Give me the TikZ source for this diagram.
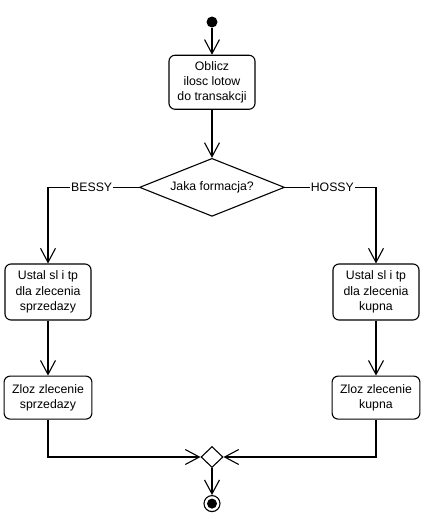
\documentclass[tikz,border=0pt]{standalone}
\usepackage{fontspec}
\setsansfont{Liberation Sans}
\usetikzlibrary{positioning}
\usetikzlibrary{arrows.meta}
\usetikzlibrary{shapes.geometric}
\tikzset{%
	% Specifications for style of nodes:
	base/.style = {draw=black, line width=1.1pt,
		font=\fontsize{12.3pt}{15.2pt}\selectfont\sffamily},
	activity/.style = {base, rectangle, rounded corners=6pt, inner xsep=8pt,
		inner ysep=5pt, minimum width=86pt, align=center},
	decision/.style = {base, diamond, aspect=2.5, inner sep=0pt,
		minimum width=145pt, minimum height=58pt},
	mergeNode/.style = {base, diamond, inner sep=0pt, minimum width=22pt, minimum height=21pt},
	initialState/.style = {circle, fill=black, inner sep=0pt, minimum size=11pt},
	finalState/.style = {base, circle, inner sep=0pt, minimum size=16pt,
		path picture={\fill (path picture bounding box.center) circle (5pt);}},
	flow/.style = {line width=1.1pt, -{Straight Barb[length=14pt, width=15pt]}},
	guard/.style = {fill=white, inner sep=1pt, font=\fontsize{12.3pt}{15.2pt}\selectfont\sffamily}
}

\begin{document}
\begin{tikzpicture}[every node/.style={font=\sffamily}, align=center]
		\useasboundingbox (0,0) rectangle (426pt,-522pt);
		\node (start) [initialState] at (212pt,-22pt) {};
		\node (computeLots) [activity, minimum height=54pt, below=27pt of start] {Oblicz\\ilosc lotow\\do transakcji};
		\node (formationChoice) [decision, below=48pt of computeLots] {Jaka formacja?};
		\node (sellSlTp) [activity, minimum height=56pt] at (48pt,-292pt) {Ustal sl i tp\\dla zlecenia\\sprzedazy};
		\node (buySlTp) [activity, minimum height=56pt] at (376pt,-292pt) {Ustal sl i tp\\dla zlecenia\\kupna};
		\node (placeSell) [activity, minimum height=43pt, below=55pt of sellSlTp] {Zloz zlecenie\\sprzedazy};
		\node (placeBuy) [activity, minimum height=43pt, below=55pt of buySlTp] {Zloz zlecenie\\kupna};
		\node (merge) [mergeNode] at (212pt,-457pt) {};
		\node (finalNode) [finalState, below=27pt of merge] {};

		\draw[flow] (start) -- (computeLots);
		\draw[flow] (computeLots) -- (formationChoice);
		\draw[flow] (formationChoice.west) -| node[guard, pos=0.26] {BESSY} (sellSlTp.north);
		\draw[flow] (formationChoice.east) -| node[guard, pos=0.26] {HOSSY} (buySlTp.north);
		\draw[flow] (sellSlTp) -- (placeSell);
		\draw[flow] (buySlTp) -- (placeBuy);
		\draw[flow] (placeSell.south) |- (merge.west);
		\draw[flow] (placeBuy.south) |- (merge.east);
		\draw[flow] (merge) -- (finalNode);
	\end{tikzpicture}
\end{document}
